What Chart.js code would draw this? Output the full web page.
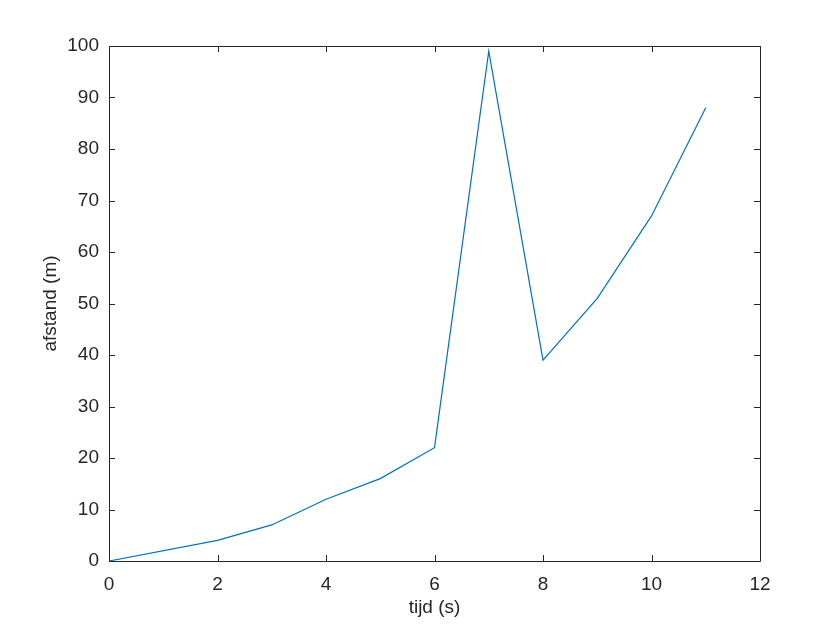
<!DOCTYPE html>
<html>
<head>
<meta charset="utf-8">
<script src="https://cdn.jsdelivr.net/npm/chart.js@4/dist/chart.umd.min.js"></script>
<style>
  html, body { margin: 0; padding: 0; background: #fff; }
  #wrap { width: 840px; height: 630px; }
</style>
</head>
<body>
<div id="wrap"><canvas id="c" width="840" height="630"></canvas></div>
<script>
// time (s) and distance (m)
const tijd = [0, 2, 3, 4, 5, 6, 7, 8, 9, 10, 11];
const afstand = [0, 4, 7, 12, 16, 22, 99, 39, 51, 67, 88];
const xTicks = [0, 2, 4, 6, 8, 10, 12];
const yTicks = [0, 10, 20, 30, 40, 50, 60, 70, 80, 90, 100];

const axisColor = '#262626';
const font = { family: 'Liberation Sans, Arial, sans-serif', size: 19 };

// box round the axes with the ticks pointing inwards, like matlab
const boxTicks = {
    id: 'boxTicks',
    afterDraw(chart) {
        const { ctx, chartArea: a, scales } = chart;
        const len = 6;
        ctx.save();
        ctx.strokeStyle = axisColor;
        ctx.lineWidth = 1;
        ctx.beginPath();
        ctx.rect(a.left + 0.5, a.top + 0.5, a.right - a.left, a.bottom - a.top);
        xTicks.forEach(v => {
            const x = Math.round(scales.x.getPixelForValue(v)) + 0.5;
            ctx.moveTo(x, a.bottom); ctx.lineTo(x, a.bottom - len);
            ctx.moveTo(x, a.top); ctx.lineTo(x, a.top + len);
        });
        yTicks.forEach(v => {
            const y = Math.round(scales.y.getPixelForValue(v)) + 0.5;
            ctx.moveTo(a.left, y); ctx.lineTo(a.left + len, y);
            ctx.moveTo(a.right, y); ctx.lineTo(a.right - len, y);
        });
        ctx.stroke();
        ctx.restore();
    }
};

new Chart(document.getElementById('c').getContext('2d'), {
    type: 'line',
    data: {
        datasets: [{
            data: tijd.map((t, i) => ({ x: t, y: afstand[i] })),
            borderColor: '#0072BD',
            borderWidth: 1.2,
            pointRadius: 0,
            tension: 0,
            fill: false
        }]
    },
    options: {
        responsive: false,
        animation: false,
        layout: { padding: { top: 46, right: 80, left: 0, bottom: 0 } },
        plugins: { legend: { display: false }, tooltip: { enabled: false } },
        scales: {
            x: {
                type: 'linear',
                min: 0, max: 12,
                afterFit: s => { s.height = 69; },
                afterBuildTicks: s => { s.ticks = xTicks.map(v => ({ value: v })); },
                grid: { display: false, drawTicks: false },
                border: { display: false },
                ticks: { color: axisColor, font, padding: 12, maxRotation: 0 },
                title: { display: true, text: 'tijd (s)', color: axisColor, font, padding: { top: 4, bottom: 11 } }
            },
            y: {
                min: 0, max: 100,
                afterFit: s => { s.width = 109; },
                afterBuildTicks: s => { s.ticks = yTicks.map(v => ({ value: v })); },
                grid: { display: false, drawTicks: false },
                border: { display: false },
                ticks: { color: axisColor, font, padding: 10 },
                title: { display: true, text: 'afstand (m)', color: axisColor, font, padding: { top: 39, bottom: 0 } }
            }
        }
    },
    plugins: [boxTicks]
});
</script>
</body>
</html>
